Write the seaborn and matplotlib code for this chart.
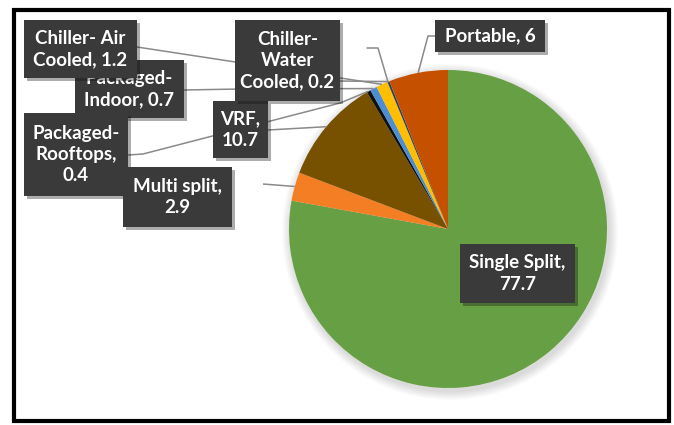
import numpy as np
import matplotlib
matplotlib.use("Agg")
import matplotlib.pyplot as plt
import matplotlib.patheffects as pe
from matplotlib.patches import Circle, Rectangle
import seaborn as sns

# Share of units by AC type (%)
categories = ["Single Split", "Multi split", "VRF", "Packaged-\nRooftops",
              "Packaged-\nIndoor", "Chiller- Air\nCooled", "Chiller-\nWater\nCooled",
              "Portable"]
values = [77.7, 2.9, 10.7, 0.4, 0.7, 1.2, 0.2, 6]
value_labels = ["77.7", "2.9", "10.7", "0.4", "0.7", "1.2", "0.2", "6"]
colors = ["#67A044", "#F47E23", "#785100", "#111111", "#4A8FD4", "#FFBF00",
          "#1F3F73", "#C55100"]

W, H = 674, 425
CX, CY, R = 448, 229, 159


def py(y):
    # picture rows -> axes y (1 unit = 1 px)
    return H - y


sns.set_theme(style="white")
plt.rcParams["font.family"] = ["Lato", "DejaVu Sans"]

fig = plt.figure(figsize=(W / 100, H / 100), dpi=100)
ax = fig.add_axes([0, 0, 1, 1])

# soft shadow behind the pie
for k in range(1, 10):
    ax.add_patch(Circle((CX + 2, py(CY) - 3), R + k, fc="black", ec="none",
                        alpha=0.014, zorder=0))

wedges, _ = ax.pie(values, colors=colors, startangle=90, counterclock=False,
                   center=(CX, py(CY)), radius=R,
                   wedgeprops=dict(linewidth=0))
for w in wedges:
    w.set_zorder(1)
ax.set_xlim(0, W)
ax.set_ylim(0, H)
ax.set_aspect("equal")
ax.axis("off")

# label box (x0, y0, x1, y1, zorder) in picture pixels
boxes = {
    "Single Split": (460, 244, 575, 303, 5),
    "Multi split": (123, 167, 232, 227, 6),
    "VRF": (213, 101, 268, 158, 6),
    "Packaged-\nRooftops": (24, 113, 128, 196, 5),
    "Packaged-\nIndoor": (75, 60, 184, 118, 4),
    "Chiller- Air\nCooled": (24, 20, 137, 78, 7),
    "Chiller-\nWater\nCooled": (235, 20, 340, 101, 6),
    "Portable": (435, 20, 545, 52, 6),
}

# leader lines: label-side points, they end on the wedge edge
leaders = {
    "Multi split": [(263, 184)],
    "VRF": [(268, 130)],
    "Packaged-\nRooftops": [(128, 155), (143, 154), (340, 103)],
    "Packaged-\nIndoor": [(184, 90), (240, 89)],
    "Chiller- Air\nCooled": [(137, 47)],
    "Chiller-\nWater\nCooled": [(340, 81)],
    "Portable": [(435, 36), (428, 36)],
}

total = sum(values)
cum = np.cumsum([0] + values)
for i, name in enumerate(categories):
    mid = (cum[i] + values[i] / 2) / total * 2 * np.pi
    ex, ey = CX + R * np.sin(mid), CY - R * np.cos(mid)
    if name in leaders:
        pts = leaders[name] + [(ex, ey)]
        ax.plot([p[0] for p in pts], [py(p[1]) for p in pts], color="#8A8A8A",
                lw=1.1, zorder=2, solid_capstyle="butt")

# extra short leader near the top of the small slices
ax.plot([367, 378, 388], [py(48), py(48), py(82)], color="#8A8A8A", lw=1.1, zorder=2)

for name, val in zip(categories, value_labels):
    x0, y0, x1, y1, z = boxes[name]
    rect = Rectangle((x0, py(y1)), x1 - x0, y1 - y0, fc="#3A3A3A", ec="none",
                     zorder=z)
    rect.set_path_effects([pe.SimplePatchShadow(offset=(2, -2), alpha=0.35),
                           pe.Normal()])
    ax.add_patch(rect)
    if name in ("Single Split", "Multi split", "VRF", "Packaged-\nRooftops"):
        txt = f"{name},\n{val}"
    else:
        txt = f"{name}, {val}"
    ax.text((x0 + x1) / 2, py((y0 + y1) / 2), txt, ha="center", va="center",
            ma="center", color="white", fontsize=13.5, fontweight="bold",
            linespacing=1.3, zorder=z + 0.1)

# outer frame
ax.add_patch(Rectangle((14, py(421)), 655, 411, fill=False, ec="black", lw=3,
                       zorder=10))

fig.savefig("out.png", dpi=100)
